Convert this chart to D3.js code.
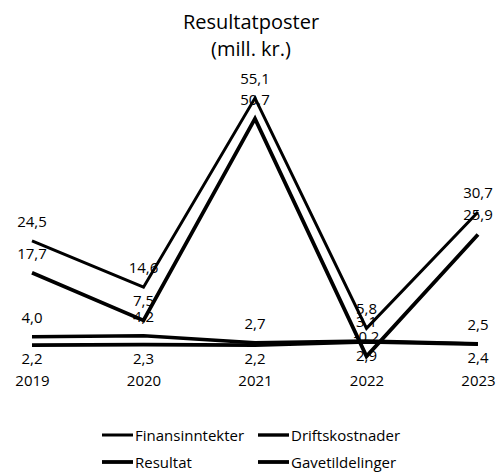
<!DOCTYPE html>
<html>
<head>
<meta charset="utf-8">
<script src="https://cdn.jsdelivr.net/npm/d3@7"></script>
<style>
  body { margin: 0; background: #fff; }
  text { font-family: "Open Sans", sans-serif; fill: #000; }
</style>
</head>
<body>
<script>
// data
const years = ['2019', '2020', '2021', '2022', '2023'];
const finansinntekter = [24.5, 14.6, 55.1, 5.8, 30.7];
const driftskostnader = [4.0, 4.2, 2.7, 3.1, 2.5];
const resultat = [17.7, 7.5, 50.7, -0.2, 25.9];
const gavetildelinger = [2.2, 2.3, 2.2, 2.9, 2.4];
const seriesNames = ['Finansinntekter', 'Driftskostnader', 'Resultat', 'Gavetildelinger'];

const width = 500, height = 473;

const series = [
  {name: seriesNames[0], values: finansinntekter, w: 3, pos: 'above'},
  {name: seriesNames[1], values: driftskostnader, w: 3.4, pos: 'above'},
  {name: seriesNames[2], values: resultat, w: 3.8, pos: 'above'},
  {name: seriesNames[3], values: gavetildelinger, w: 3.8, pos: 'below'}
];

const svg = d3.select('body').append('svg')
  .attr('width', width)
  .attr('height', height);

svg.append('text')
  .attr('x', 251).attr('y', 29)
  .attr('text-anchor', 'middle')
  .attr('font-size', 20)
  .text('Resultatposter');
svg.append('text')
  .attr('x', 251).attr('y', 56)
  .attr('text-anchor', 'middle')
  .attr('font-size', 20)
  .text('(mill. kr.)');

let x = d3.scalePoint()
  .domain(years)
  .range([32, 478]);

let y = d3.scaleLinear()
  .domain([0, 60])
  .range([355.4, 75.2]);

// year labels, no axis line
svg.append('g')
  .attr('transform', `translate(0,${375})`)
  .call(d3.axisBottom(x).tickSize(0).tickPadding(0))
  .call(g => g.select('.domain').remove())
  .call(g => g.selectAll('text')
    .attr('font-family', '"Open Sans", sans-serif')
    .attr('font-size', 15)
    .attr('fill', '#000'));

const fmt = v => d3.format('.1f')(Math.abs(v)).replace('.', ',');
const fmtSigned = v => (v < 0 ? '-' : '') + fmt(v);

let line = d3.line()
  .x((d, i) => x(years[i]))
  .y(d => y(d));

svg.selectAll('.series').data(series)
  .enter()
    .append('path')
    .attr('class', 'series')
    .attr('d', d => line(d.values))
    .attr('fill', 'none')
    .attr('stroke', '#000')
    .attr('stroke-width', d => d.w)
    .attr('stroke-linejoin', 'miter');

series.forEach(s => {
  svg.append('g').selectAll('text').data(s.values)
    .enter()
      .append('text')
      .attr('x', (d, i) => x(years[i]))
      .attr('y', d => s.pos === 'above' ? y(d) - 14 : y(d) + 19)
      .attr('text-anchor', 'middle')
      .attr('font-size', 15)
      .text(d => fmtSigned(d));
});

// legend
const legendPos = [[102, 435], [258, 435], [102, 462], [258, 462]];
series.forEach((s, i) => {
  let g = svg.append('g')
    .attr('transform', `translate(${legendPos[i][0]},${legendPos[i][1]})`);
  g.append('line')
    .attr('x1', 0).attr('x2', 31)
    .attr('y1', 0).attr('y2', 0)
    .attr('stroke', '#000')
    .attr('stroke-width', s.w);
  g.append('text')
    .attr('x', 33).attr('y', 5.5)
    .attr('font-size', 15)
    .text(s.name);
});
</script>
</body>
</html>
